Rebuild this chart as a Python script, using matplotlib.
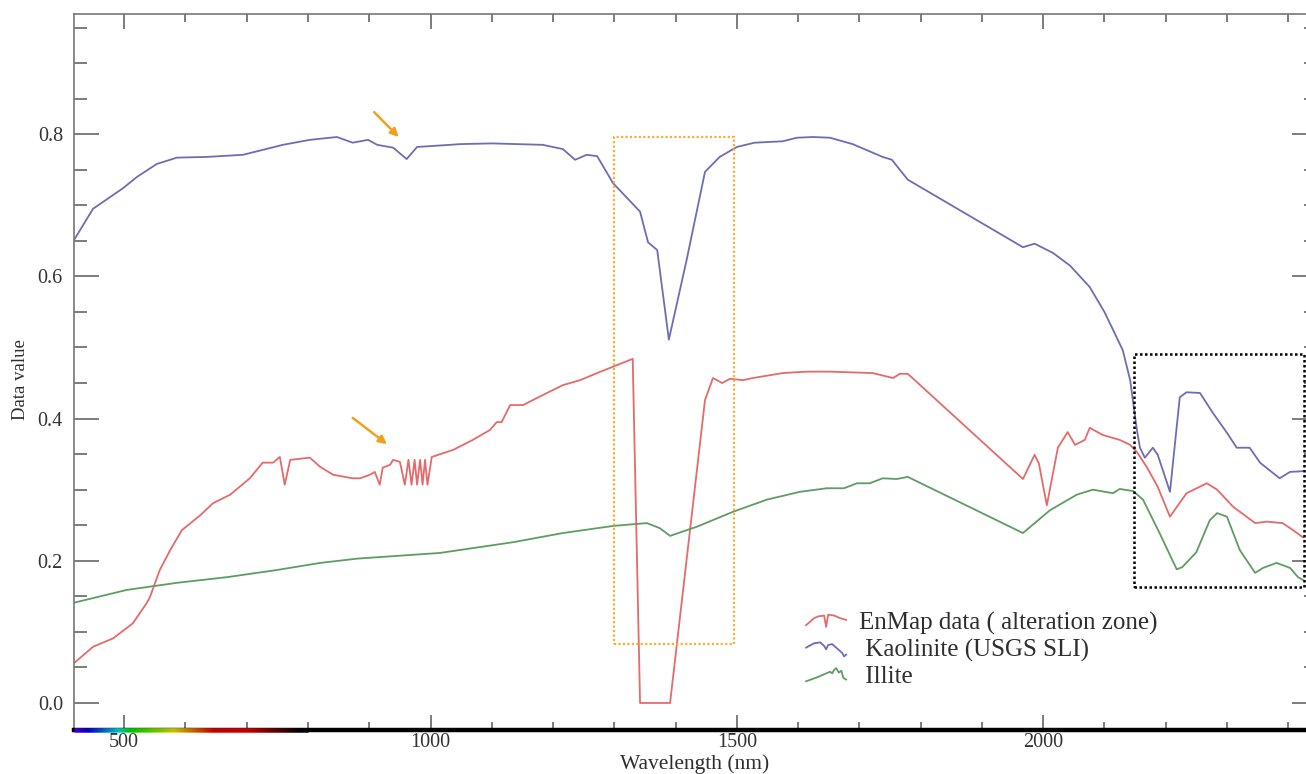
import matplotlib.pyplot as plt
import numpy as np
from matplotlib.collections import LineCollection
from matplotlib.legend_handler import HandlerBase
from matplotlib.lines import Line2D
from matplotlib.patches import Rectangle
from matplotlib.ticker import FormatStrFormatter, MultipleLocator

plt.rcParams.update({
    "font.family": ["Liberation Serif", "DejaVu Serif"],
    "text.color": "#2e2e2e",
    "axes.labelcolor": "#2e2e2e",
    "xtick.color": "#666666",
    "ytick.color": "#666666",
    "xtick.labelcolor": "#333333",
    "ytick.labelcolor": "#333333",
})

# EnMap pixel spectrum (alteration zone)
enmap_nm = [418, 449, 482, 514, 537, 542, 558, 575, 594, 624, 645, 673, 705,
            726, 743, 754, 762, 771, 803, 820, 841, 873, 885, 901, 909, 917,
            922, 934, 939, 950, 958, 964, 969, 974, 978, 983, 987, 991, 995,
            1002, 1037, 1069, 1097, 1108, 1116, 1130, 1151, 1167, 1190, 1216,
            1244, 1272, 1298, 1330, 1342, 1391, 1448, 1461, 1476, 1489, 1510,
            1526, 1575, 1614, 1652, 1722, 1755, 1766, 1779, 1967, 1986, 1993,
            2006, 2024, 2040, 2052, 2068, 2076, 2097, 2125, 2142, 2153, 2169,
            2187, 2207, 2234, 2267, 2284, 2310, 2346, 2365, 2391, 2408, 2424]
enmap_val = [0.056, 0.079, 0.091, 0.112, 0.141, 0.149, 0.187, 0.215, 0.243,
             0.264, 0.281, 0.293, 0.316, 0.338, 0.338, 0.346, 0.307, 0.342,
             0.345, 0.332, 0.321, 0.316, 0.316, 0.321, 0.325, 0.307, 0.331,
             0.335, 0.342, 0.339, 0.307, 0.342, 0.307, 0.342, 0.307, 0.342,
             0.307, 0.342, 0.307, 0.346, 0.356, 0.370, 0.384, 0.395, 0.395,
             0.419, 0.419, 0.426, 0.436, 0.447, 0.454, 0.464, 0.473, 0.484,
             0.0, 0.0, 0.426, 0.457, 0.450, 0.456, 0.454, 0.457, 0.464, 0.466,
             0.466, 0.464, 0.457, 0.463, 0.463, 0.315, 0.349, 0.337, 0.278,
             0.359, 0.381, 0.363, 0.370, 0.387, 0.377, 0.370, 0.363, 0.353,
             0.332, 0.304, 0.262, 0.295, 0.309, 0.300, 0.276, 0.253, 0.255,
             0.253, 0.243, 0.233]

# Kaolinite reference (USGS spectral library)
kaol_nm = [418, 449, 498, 521, 553, 586, 635, 694, 759, 803, 847, 873, 898,
           913, 939, 961, 978, 1032, 1048, 1100, 1183, 1216, 1236, 1255, 1272,
           1298, 1342, 1355, 1370, 1389, 1418, 1448, 1472, 1500, 1529, 1575,
           1598, 1624, 1652, 1689, 1738, 1753, 1779, 1967, 1986, 2016, 2044,
           2076, 2100, 2114, 2130, 2142, 2147, 2153, 2158, 2166, 2179, 2187,
           2207, 2223, 2234, 2256, 2277, 2300, 2316, 2337, 2354, 2386, 2403,
           2424]
kaol_val = [0.651, 0.695, 0.724, 0.740, 0.758, 0.767, 0.768, 0.771, 0.785,
            0.792, 0.796, 0.788, 0.792, 0.785, 0.781, 0.765, 0.782, 0.785,
            0.786, 0.787, 0.785, 0.779, 0.764, 0.771, 0.769, 0.731, 0.691,
            0.648, 0.637, 0.511, 0.623, 0.747, 0.768, 0.782, 0.788, 0.790,
            0.795, 0.796, 0.795, 0.786, 0.768, 0.764, 0.736, 0.641, 0.646,
            0.633, 0.615, 0.585, 0.550, 0.525, 0.496, 0.454, 0.422, 0.384,
            0.359, 0.345, 0.359, 0.349, 0.297, 0.430, 0.437, 0.436, 0.408,
            0.380, 0.359, 0.359, 0.338, 0.316, 0.325, 0.326]

# Illite reference
illite_nm = [418, 504, 586, 668, 749, 820, 880, 1015, 1134, 1216, 1298, 1353,
             1374, 1391, 1435, 1494, 1549, 1603, 1647, 1675, 1696, 1717, 1738,
             1761, 1779, 1967, 2011, 2055, 2081, 2114, 2125, 2147, 2163, 2190,
             2218, 2227, 2250, 2272, 2284, 2300, 2321, 2346, 2359, 2381, 2403,
             2416, 2424]
illite_val = [0.141, 0.159, 0.169, 0.177, 0.187, 0.197, 0.203, 0.211, 0.226,
              0.239, 0.249, 0.253, 0.246, 0.235, 0.248, 0.269, 0.286, 0.297,
              0.302, 0.302, 0.309, 0.309, 0.316, 0.315, 0.318, 0.239, 0.271,
              0.293, 0.300, 0.295, 0.301, 0.298, 0.286, 0.239, 0.188, 0.191,
              0.212, 0.257, 0.267, 0.262, 0.215, 0.183, 0.190, 0.197, 0.190,
              0.177, 0.173]

series_labels = ["EnMap data ( alteration zone)", " Kaolinite (USGS SLI)", " Illite"]

# highlighted windows: (nm start, nm end, value low, value high)
water_box = (1299, 1495, 0.083, 0.796)
aloh_box = (2148, 2426, 0.163, 0.491)

COLORS = {
    "enmap": "#E46A6C",
    "kaol": "#6E6DB3",
    "illite": "#5E9C62",
    "arrow": "#F0A21E",
    "box": "#F2B233",
}


def wavelength_rgb(nm):
    if nm < 440:
        r, g, b = -(nm - 440) / 60, 0.0, 1.0
    elif nm < 490:
        r, g, b = 0.0, (nm - 440) / 50, 1.0
    elif nm < 510:
        r, g, b = 0.0, 1.0, -(nm - 510) / 20
    elif nm < 580:
        r, g, b = (nm - 510) / 70, 1.0, 0.0
    elif nm < 645:
        r, g, b = 1.0, -(nm - 645) / 65, 0.0
    else:
        r, g, b = 1.0, 0.0, 0.0
    if nm < 420:
        f = 0.3 + 0.7 * (nm - 380) / 40
    elif nm > 700:
        f = max(0.0, 1.0 - (nm - 700) / 85)
    else:
        f = 1.0
    return (r * f, g * f, b * f)


class SpectrumIcon(HandlerBase):
    """Small squiggle standing in for a spectrum in the legend."""

    def __init__(self, shape):
        super().__init__()
        self.shape = np.asarray(shape, dtype=float)

    def create_artists(self, legend, orig_handle, xdescent, ydescent, width,
                       height, fontsize, trans):
        xs = -xdescent + self.shape[:, 0] * width
        ys = -ydescent + (self.shape[:, 1] * 1.0) * height
        line = Line2D(xs, ys, color=orig_handle.get_color(), lw=1.3)
        line.set_transform(trans)
        return [line]


fig = plt.figure(figsize=(13.06, 7.74), dpi=100)
ax = fig.add_axes([74 / 1306, 44 / 774, 1243 / 1306, 716 / 774])

l1, = ax.plot(enmap_nm, enmap_val, color=COLORS["enmap"], lw=1.3,
              label=series_labels[0])
l2, = ax.plot(kaol_nm, kaol_val, color=COLORS["kaol"], lw=1.3,
              label=series_labels[1])
l3, = ax.plot(illite_nm, illite_val, color=COLORS["illite"], lw=1.3,
              label=series_labels[2])

x0, x1, y0, y1 = water_box
ax.add_patch(Rectangle((x0, y0), x1 - x0, y1 - y0, fill=False,
                       edgecolor=COLORS["box"], lw=1.6, ls=(0, (1, 1)),
                       zorder=4))
x0, x1, y0, y1 = aloh_box
ax.add_patch(Rectangle((x0, y0), x1 - x0, y1 - y0, fill=False,
                       edgecolor="black", lw=1.8, ls=(0, (1, 1)), zorder=4))

for tail, head in [((908, 0.831), (948, 0.796)), ((873, 0.401), (929, 0.364))]:
    ax.annotate("", xy=head, xytext=tail,
                arrowprops=dict(arrowstyle="-|>", color=COLORS["arrow"],
                                lw=1.8, mutation_scale=12,
                                shrinkA=0, shrinkB=0))

ax.set_xlim(418, 2447)
ax.set_ylim(-0.038, 0.969)
ax.xaxis.set_major_locator(MultipleLocator(500))
ax.xaxis.set_minor_locator(MultipleLocator(100))
ax.yaxis.set_major_locator(MultipleLocator(0.2))
ax.yaxis.set_minor_locator(MultipleLocator(0.05))
ax.yaxis.set_major_formatter(FormatStrFormatter("%.1f"))

ax.tick_params(axis="both", which="both", direction="in", top=True,
               right=True, width=1.2, labelsize=14.5)
ax.tick_params(axis="y", which="major", length=18, pad=8)
ax.tick_params(axis="y", which="minor", length=9.5)
ax.tick_params(axis="x", which="major", length=10.5, pad=2)
ax.tick_params(axis="x", which="minor", length=5.5)

for side in ["left", "top", "right"]:
    ax.spines[side].set_color("#777777")
    ax.spines[side].set_linewidth(1.2)
ax.spines["bottom"].set_color("black")
ax.spines["bottom"].set_linewidth(3.2)

# visible-light colour strip along the wavelength axis
wl = np.linspace(418, 800, 300)
segs = [[(wl[i], 0), (wl[i + 1], 0)] for i in range(len(wl) - 1)]
strip = LineCollection(segs, colors=[wavelength_rgb(w) for w in wl[:-1]],
                       linewidths=3.4, transform=ax.get_xaxis_transform(),
                       clip_on=False, zorder=6, capstyle="butt")
ax.add_collection(strip)

ax.set_xlabel("Wavelength (nm)", fontsize=15.5)
ax.set_ylabel("Data value", fontsize=13.5)
ax.xaxis.set_label_coords(0.499, -0.034)
ax.yaxis.set_label_coords(-0.036, 0.49)

icons = {
    l1: SpectrumIcon([(0, 0.25), (0.2, 0.65), (0.3, 0.75), (0.45, 0.8),
                      (0.5, 0.15), (0.55, 0.85), (0.7, 0.8), (0.85, 0.65),
                      (1, 0.55)]),
    l2: SpectrumIcon([(0, 0.5), (0.2, 0.75), (0.35, 0.8), (0.45, 0.6),
                      (0.5, 0.4), (0.55, 0.65), (0.65, 0.7), (0.8, 0.4),
                      (0.9, 0.2), (0.95, 0.0), (1, 0.1)]),
    l3: SpectrumIcon([(0, 0.1), (0.3, 0.35), (0.5, 0.55), (0.6, 0.65),
                      (0.65, 0.55), (0.7, 0.75), (0.75, 0.85), (0.82, 0.6),
                      (0.88, 0.7), (0.93, 0.3), (1, 0.2)]),
}
ax.legend(handles=[l1, l2, l3], handler_map=icons, loc="upper left",
          bbox_to_anchor=(0.589, 0.165), frameon=False, fontsize=18,
          borderaxespad=0, borderpad=0, handlelength=1.6, handletextpad=0.5,
          labelspacing=0.15)

fig.savefig("out.png", dpi=100)
